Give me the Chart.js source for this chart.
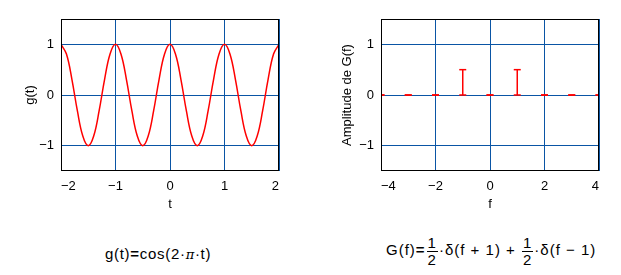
<!DOCTYPE html>
<html lang="fr">
<head>
    <meta charset="UTF-8">
    <title>g(t) et G(f)</title>
    <style>
        body { margin: 0; background: #fff; font-family: "Liberation Sans", Arial, sans-serif; }
        #wrap { position: relative; width: 621px; height: 275px; }
        canvas { position: absolute; top: 0; }
        .eq { position: absolute; font-size: 15px; color: #000; white-space: nowrap; }
        .eq b { font-weight: bold; }
        .pi { font-family: "DejaVu Serif", serif; font-style: italic; font-size: 13px; }
        .frac { display: inline-block; vertical-align: middle; text-align: center; line-height: 16px; margin: 0 1px; }
        .frac span { display: block; padding: 0 1px; }
        .frac span:first-child { border-bottom: 1px solid #000; }
    </style>
    <script src="https://cdn.jsdelivr.net/npm/chart.js"></script>
</head>
<body>
<div id="wrap">
    <canvas id="left" width="310" height="220" style="left:0"></canvas>
    <canvas id="right" width="310" height="220" style="left:320px"></canvas>
    <div class="eq" style="left:105px; top:245px; letter-spacing:0.7px">g(t)<b>=</b>cos(2·<span class="pi">π</span>·t)</div>
    <div class="eq" style="left:386px; top:235px; letter-spacing:1px">G(f)<b>=</b><span class="frac"><span>1</span><span>2</span></span>·δ(f + 1) + <span class="frac"><span>1</span><span>2</span></span>·δ(f − 1)</div>
</div>
<script>
    const tValues = [
        -2.0, -1.9, -1.8, -1.7, -1.6, -1.5, -1.4, -1.3, -1.2, -1.1,
        -1.0, -0.9, -0.8, -0.7, -0.6, -0.5, -0.4, -0.3, -0.2, -0.1,
        0.0, 0.1, 0.2, 0.3, 0.4, 0.5, 0.6, 0.7, 0.8, 0.9,
        1.0, 1.1, 1.2, 1.3, 1.4, 1.5, 1.6, 1.7, 1.8, 1.9, 2.0
    ];
    const gValues = [
        1, 0.809, 0.309, -0.309, -0.809, -1, -0.809, -0.309, 0.309, 0.809,
        1, 0.809, 0.309, -0.309, -0.809, -1, -0.809, -0.309, 0.309, 0.809,
        1, 0.809, 0.309, -0.309, -0.809, -1, -0.809, -0.309, 0.309, 0.809,
        1, 0.809, 0.309, -0.309, -0.809, -1, -0.809, -0.309, 0.309, 0.809, 1
    ];

    // spectre G(f)
    const fValues = [-4, -3, -2, -1, 0, 1, 2, 3, 4];
    const ampValues = [0, 0, 0, 0.5, 0, 0.5, 0, 0, 0];

    const yTicks = [-1, 0, 1];

    const gridBlue = '#0a55a5';
    const red = '#ff0000';
    const font = { family: '"Liberation Sans", Arial, sans-serif', size: 13 };

    function fmt(v) {
        return v < 0 ? '\u2212' + Math.abs(v) : String(v);
    }

    const framePlugin = {
        id: 'frame',
        afterDraw(chart) {
            const a = chart.chartArea;
            const c = chart.ctx;
            c.save();
            c.strokeStyle = '#000';
            c.lineWidth = 1;
            c.strokeRect(Math.round(a.left) + 0.5, Math.round(a.top) + 0.5,
                Math.round(a.right - a.left) - 1, Math.round(a.bottom - a.top) - 1);
            c.restore();
        }
    };

    function makeScales(xMin, xMax, xStep, xTitle, yTitle, yWidth) {
        return {
            x: {
                type: 'linear', min: xMin, max: xMax,
                afterFit: s => { s.height = 45; },
                grid: { color: gridBlue, drawTicks: false },
                border: { display: false },
                ticks: { stepSize: xStep, align: 'inner', padding: 8, color: '#000', font: font,
                    maxRotation: 0, autoSkip: false, callback: fmt },
                title: { display: true, text: xTitle, color: '#000', font: font, padding: { top: 4, bottom: 4 } }
            },
            y: {
                min: -1.5, max: 1.5,
                afterBuildTicks: s => { s.ticks = yTicks.map(v => ({ value: v })); },
                afterFit: s => { s.width = yWidth; },
                grid: { color: gridBlue, drawTicks: false },
                border: { display: false },
                ticks: { padding: 7, color: '#000', font: font, callback: fmt },
                title: { display: true, text: yTitle, color: '#000', font: font, padding: { top: 4, bottom: 4 } }
            }
        };
    }

    const common = {
        responsive: false,
        animation: false,
        plugins: { legend: { display: false }, tooltip: { enabled: false } }
    };

    new Chart(document.getElementById('left'), {
        type: 'scatter',
        data: {
            datasets: [{
                data: tValues.map((t, i) => ({ x: t, y: gValues[i] })),
                showLine: true,
                borderColor: red,
                borderWidth: 1.5,
                pointRadius: 0,
                tension: 0.4
            }]
        },
        options: Object.assign({}, common, {
            layout: { padding: { left: 19, top: 19, right: 31, bottom: 4 } },
            scales: makeScales(-2, 2, 1, 't', 'g(t)', 42)
        }),
        plugins: [framePlugin]
    });

    new Chart(document.getElementById('right'), {
        type: 'scatter',
        data: {
            datasets: fValues.map((f, i) => ({
                data: [{ x: f, y: 0 }, { x: f, y: ampValues[i] }],
                showLine: true,
                borderColor: red,
                borderWidth: 1.5,
                pointStyle: 'line',
                pointRadius: 3.5,
                pointBorderColor: red,
                pointBorderWidth: 1.5
            }))
        },
        options: Object.assign({}, common, {
            layout: { padding: { left: 16, top: 19, right: 31, bottom: 4 } },
            scales: makeScales(-4, 4, 2, 'f', 'Amplitude de G(f)', 45)
        }),
        plugins: [framePlugin]
    });
</script>
</body>
</html>
